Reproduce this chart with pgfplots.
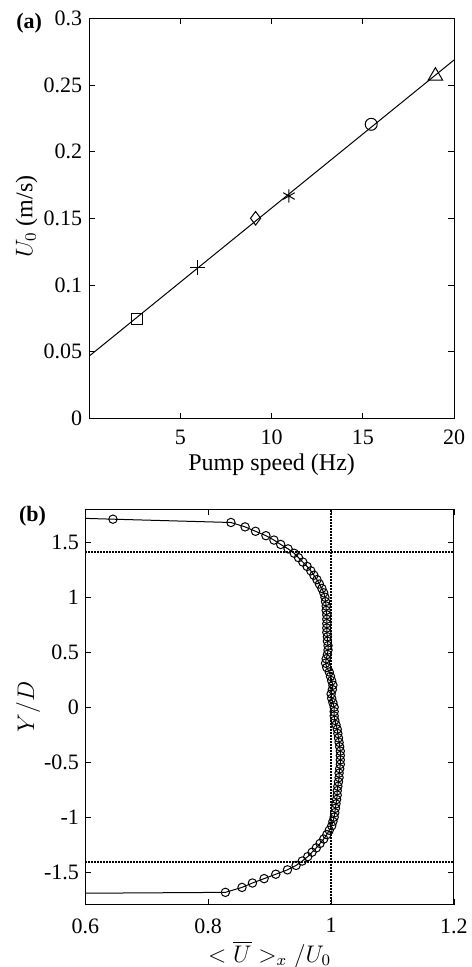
\documentclass[border=0pt]{standalone}
\usepackage{fontspec}
\setmainfont{Liberation Serif}
\usepackage{pgfplots}
\pgfplotsset{compat=1.18}
\pgfplotsset{
  mystyle/.style={
    scale only axis, anchor=south west,
    axis line style={line width=0.5pt},
    tick align=inside, major tick length=2.8pt,
    every tick/.style={black, line width=0.4pt},
    tick label style={font=\fontsize{11}{13}\selectfont},
    label style={font=\fontsize{12}{14}\selectfont},
    clip mode=individual,
  }
}
\begin{document}
\begin{tikzpicture}
\useasboundingbox (0,0) rectangle (235.5pt,483.5pt);
% ---------- panel (a) ----------
\begin{axis}[mystyle,
  at={(44.65pt,274.35pt)}, width=182.35pt, height=200pt,
  xmin=0, xmax=20, ymin=0, ymax=0.3,
  xtick={5,10,15,20}, xticklabels={5,10,15,20},
  ytick={0,0.05,0.1,0.15,0.2,0.25,0.3},
  yticklabels={0,0.05,0.1,0.15,0.2,0.25,0.3},
  xticklabel style={yshift=-2.3pt},
  yticklabel style={xshift=0pt},
  xlabel={Pump speed (Hz)},
  ylabel={$U_0$ (m/s)},
  xlabel style={at={(axis description cs:0.5,-0.117)}, anchor=center},
  ylabel style={at={(axis description cs:-0.172,0.504)}, anchor=center},
]
\addplot[black, line width=0.5pt] coordinates {(0,0.0467) (20,0.2687)};
\addplot[only marks, mark=square, mark size=2.8pt, mark options={black, line width=0.5pt}] coordinates {(2.6,0.0742)};
\addplot[only marks, mark=+, mark size=3.8pt, mark options={black, line width=0.5pt}] coordinates {(5.95,0.1133)};
\addplot[only marks, mark=diamond, mark size=3.4pt, mark options={black, line width=0.5pt}] coordinates {(9.12,0.150)};
\addplot[only marks, mark=asterisk, mark size=3.3pt, mark options={black, line width=0.5pt}] coordinates {(10.95,0.1667)};
\addplot[only marks, mark=o, mark size=3pt, mark options={black, line width=0.5pt}] coordinates {(15.46,0.2205)};
\addplot[only marks, mark=triangle, mark size=4.2pt, mark options={black, line width=0.5pt}] coordinates {(18.98,0.2567)};
\node[font=\fontsize{11}{13}\selectfont\bfseries] at (axis description cs:-0.165,0.9875) {(a)};
\end{axis}
% ---------- panel (b) ----------
\begin{axis}[mystyle,
  at={(42.65pt,31pt)}, width=184.35pt, height=197.85pt,
  xmin=0.6, xmax=1.2, ymin=-1.8, ymax=1.8,
  xtick={0.6,0.8,1,1.2}, xticklabels={0.6,0.8,1,1.2},
  ytick={-1.5,-1,-0.5,0,0.5,1,1.5},
  yticklabels={-1.5,-1,-0.5,0,0.5,1,1.5},
  xticklabel style={yshift=-3.2pt},
  yticklabel style={xshift=0.3pt},
  xlabel={$<\overline{U}>_x/U_0$},
  ylabel={$Y/D$},
  xlabel style={at={(axis description cs:0.5,-0.126)}, anchor=center},
  ylabel style={at={(axis description cs:-0.155,0.501)}, anchor=center},
]
\addplot[black, line width=0.75pt, dash pattern=on 0.75pt off 0.75pt] coordinates {(0.6,1.41) (1.2,1.41)};
\addplot[black, line width=0.75pt, dash pattern=on 0.75pt off 0.75pt] coordinates {(0.6,-1.41) (1.2,-1.41)};
\addplot[black, line width=0.75pt, dash pattern=on 0.75pt off 0.75pt] coordinates {(1,-1.8) (1,1.8)};
\addplot[black, line width=0.5pt, mark=o, mark size=2.1pt, mark options={black, line width=0.5pt}] table {
x y
0.40 1.75
0.645 1.71
0.837 1.68
0.860 1.64
0.877 1.60
0.894 1.56
0.907 1.52
0.918 1.48
0.930 1.44
0.940 1.40
0.947 1.36
0.954 1.32
0.961 1.28
0.967 1.24
0.972 1.20
0.977 1.16
0.981 1.12
0.985 1.08
0.988 1.04
0.990 1.00
0.991 0.96
0.992 0.92
0.992 0.88
0.993 0.84
0.993 0.80
0.993 0.76
0.993 0.72
0.993 0.68
0.994 0.64
0.994 0.60
0.995 0.56
0.995 0.52
0.994 0.48
0.992 0.44
0.991 0.40
0.993 0.36
0.997 0.32
0.999 0.28
1.001 0.24
1.003 0.20
1.002 0.16
1.000 0.12
1.001 0.08
1.003 0.04
1.005 0.00
1.005 -0.04
1.005 -0.08
1.006 -0.12
1.008 -0.16
1.010 -0.20
1.011 -0.24
1.012 -0.28
1.013 -0.32
1.014 -0.36
1.015 -0.40
1.015 -0.44
1.015 -0.48
1.015 -0.52
1.014 -0.56
1.013 -0.60
1.013 -0.64
1.012 -0.68
1.011 -0.72
1.010 -0.76
1.010 -0.80
1.009 -0.84
1.008 -0.88
1.007 -0.92
1.006 -0.96
1.005 -1.00
1.003 -1.04
1.001 -1.08
0.997 -1.12
0.993 -1.16
0.988 -1.20
0.982 -1.24
0.976 -1.28
0.969 -1.32
0.962 -1.36
0.953 -1.40
0.943 -1.44
0.929 -1.48
0.910 -1.52
0.891 -1.56
0.872 -1.60
0.855 -1.64
0.828 -1.685
0.40 -1.70
};
\node[font=\fontsize{11}{13}\selectfont\bfseries] at (axis description cs:-0.143,0.9836) {(b)};
\end{axis}
\end{tikzpicture}
\end{document}
